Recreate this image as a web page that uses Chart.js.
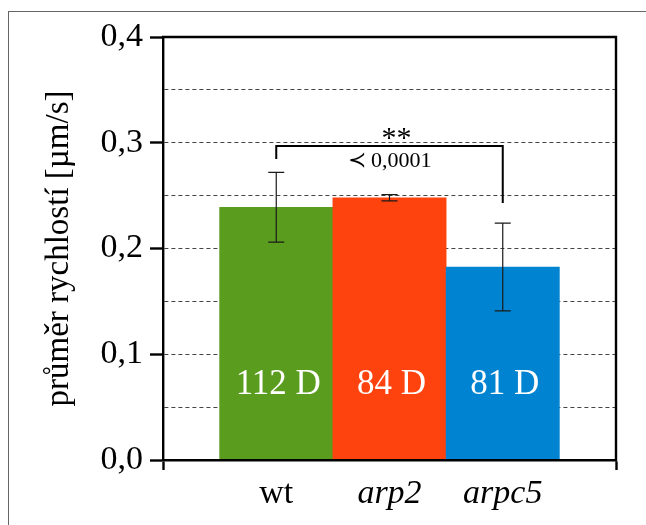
<!DOCTYPE html>
<html>
<head>
<meta charset="utf-8">
<script src="https://cdn.jsdelivr.net/npm/chart.js@4.4.1/dist/chart.umd.min.js"></script>
<style>
  html, body { margin: 0; padding: 0; background: #fff; overflow: hidden; }
  #frame { position: absolute; left: 8px; top: 11px; width: 700px; height: 600px;
           border-left: 1.4px solid #666; border-top: 1.4px solid #666; }
  #wrap { position: absolute; left: 0; top: 0; width: 646px; height: 525px; }
</style>
</head>
<body>
<div id="frame"></div>
<div id="wrap"><canvas id="chart"></canvas></div>
<script>
// Empty slots at both ends so the strains sit at 1, 2, 3 on a 0..4 axis.
const categories = ['', 'wt', 'arp2', 'arpc5', ''];
const meanSpeeds = [null, 0.239, 0.248, 0.1825, null];
const speedErrors = [null, 0.033, 0.003, 0.0415, null];
const cellCounts = ['', '112 D', '84 D', '81 D', ''];
const barColors = ['#000', '#5a9d1e', '#ff430f', '#0083d0', '#000'];

const yMin = 0;
const yMax = 0.4;
const yStep = 0.05;

// Significance bracket between wt (1) and arpc5 (3): left foot, top, right foot.
const bracketIdx = [1, 3];
const bracketLevels = [0.2846, 0.2969, 0.243];
const bracketStars = '**';
const bracketP = '\u227A 0,0001';

const SERIF = "'Liberation Serif', 'DejaVu Serif', serif";
const AXIS_W = 2.4;

const isMajor = (v) => Math.abs(v * 10 - Math.round(v * 10)) < 1e-6;

const overlay = {
  id: 'overlay',
  afterDatasetsDraw(chart) {
    const { ctx, chartArea: a, scales: { x, y } } = chart;
    ctx.save();

    // top and right frame of the axis box
    ctx.strokeStyle = '#000';
    ctx.lineWidth = AXIS_W;
    ctx.lineCap = 'square';
    ctx.beginPath();
    ctx.moveTo(a.left, a.top);
    ctx.lineTo(a.right, a.top);
    ctx.lineTo(a.right, a.bottom);
    ctx.stroke();

    // error bars
    ctx.lineCap = 'butt';
    ctx.lineWidth = 1.2;
    ctx.strokeStyle = '#1a1a1a';
    meanSpeeds.forEach((v, i) => {
      if (v == null) return;
      const px = x.getPixelForValue(i);
      const hi = y.getPixelForValue(v + speedErrors[i]);
      const lo = y.getPixelForValue(v - speedErrors[i]);
      ctx.beginPath();
      ctx.moveTo(px, hi); ctx.lineTo(px, lo);
      ctx.moveTo(px - 8, hi); ctx.lineTo(px + 8, hi);
      ctx.moveTo(px - 8, lo); ctx.lineTo(px + 8, lo);
      ctx.stroke();
    });

    // cell counts inside the bars
    ctx.fillStyle = '#fff';
    ctx.font = `35px ${SERIF}`;
    ctx.textAlign = 'center';
    ctx.textBaseline = 'middle';
    cellCounts.forEach((t, i) => {
      if (!t) return;
      ctx.fillText(t, x.getPixelForValue(i) + 2, y.getPixelForValue(0.071));
    });

    // significance bracket
    const x1 = x.getPixelForValue(bracketIdx[0]);
    const x2 = x.getPixelForValue(bracketIdx[1]);
    const yTop = y.getPixelForValue(bracketLevels[1]);
    ctx.strokeStyle = '#000';
    ctx.lineWidth = 2;
    ctx.beginPath();
    ctx.moveTo(x1, y.getPixelForValue(bracketLevels[0]));
    ctx.lineTo(x1, yTop);
    ctx.lineTo(x2, yTop);
    ctx.lineTo(x2, y.getPixelForValue(bracketLevels[2]));
    ctx.stroke();

    ctx.fillStyle = '#000';
    ctx.font = `30px ${SERIF}`;
    ctx.fillText(bracketStars, (x1 + x2) / 2 + 7, yTop - 7);
    ctx.font = `22px ${SERIF}`;
    ctx.fillText(bracketP, (x1 + x2) / 2, yTop + 15);

    ctx.restore();
  },
};

new Chart(document.getElementById('chart'), {
  type: 'bar',
  data: {
    labels: categories,
    datasets: [{
      data: meanSpeeds,
      backgroundColor: barColors,
      borderWidth: 0,
      barPercentage: 1,
      categoryPercentage: 1,
    }],
  },
  options: {
    responsive: true,
    maintainAspectRatio: false,
    animation: false,
    layout: { padding: { top: 37, right: 30, left: 0, bottom: 0 } },
    plugins: { legend: { display: false }, tooltip: { enabled: false } },
    scales: {
      x: {
        offset: false,
        afterFit: (s) => { s.height = 65; },
        border: { display: true, color: '#000', width: AXIS_W, z: 1 },
        grid: {
          offset: false,
          drawOnChartArea: false,
          drawTicks: true,
          tickLength: 10,
          tickWidth: AXIS_W,
          tickColor: (c) => (c.index === 0 || c.index === categories.length - 1 ? '#000' : 'rgba(0,0,0,0)'),
        },
        ticks: {
          color: '#000',
          padding: 4,
          maxRotation: 0,
          autoSkip: false,
          font: (c) => ({ family: SERIF, size: 34, style: c.index > 1 ? 'italic' : 'normal' }),
        },
      },
      y: {
        min: yMin,
        max: yMax,
        afterFit: (s) => { s.width = 163; },
        border: { display: true, color: '#000', width: AXIS_W, dash: [4, 3] },
        grid: {
          color: (c) => (c.tick && (c.tick.value <= yMin + 1e-9 || c.tick.value >= yMax - 1e-9) ? 'rgba(0,0,0,0)' : '#444'),
          lineWidth: 1,
          borderDash: [4, 3],
          tickLength: 13,
          tickWidth: AXIS_W,
          tickBorderDash: [],
          tickColor: (c) => (c.tick && isMajor(c.tick.value) ? '#000' : 'rgba(0,0,0,0)'),
        },
        ticks: {
          stepSize: yStep,
          color: '#000',
          padding: 7,
          font: { family: SERIF, size: 34 },
          callback: (v) => (isMajor(v) ? v.toFixed(1).replace('.', ',') : ''),
        },
        title: {
          display: true,
          text: 'průměr rychlostí [µm/s]',
          color: '#000',
          font: { family: SERIF, size: 33 },
          padding: { top: 40, bottom: 0 },
        },
      },
    },
  },
  plugins: [overlay],
});
</script>
</body>
</html>
